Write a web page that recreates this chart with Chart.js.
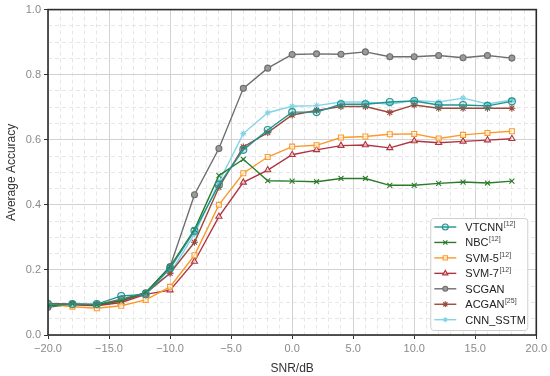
<!DOCTYPE html>
<html>
<head>
<meta charset="utf-8">
<script src="https://cdn.jsdelivr.net/npm/chart.js@4.4.0/dist/chart.umd.min.js"></script>
<style>
  html, body { margin: 0; padding: 0; background: #fff; }
</style>
</head>
<body>
<canvas id="accChart" width="550" height="376"></canvas>
<script>
// SNR values (dB) on the x axis
const snr = [-20, -18, -16, -14, -12, -10, -8, -6, -4, -2, 0, 2, 4, 6, 8, 10, 12, 14, 16, 18];

// accuracy per method
const vtcnn   = [0.095, 0.095, 0.095, 0.120, 0.125, 0.205, 0.320, 0.462, 0.569, 0.630, 0.685, 0.685, 0.709, 0.709, 0.716, 0.719, 0.707, 0.707, 0.704, 0.718];
const nbc     = [0.090, 0.095, 0.093, 0.105, 0.130, 0.210, 0.324, 0.490, 0.540, 0.474, 0.473, 0.471, 0.481, 0.481, 0.460, 0.460, 0.466, 0.470, 0.467, 0.473];
const svm5    = [0.095, 0.087, 0.082, 0.090, 0.108, 0.148, 0.245, 0.400, 0.497, 0.547, 0.579, 0.583, 0.607, 0.610, 0.617, 0.618, 0.604, 0.615, 0.621, 0.626];
const svm7    = [0.097, 0.093, 0.090, 0.100, 0.125, 0.138, 0.226, 0.364, 0.469, 0.507, 0.554, 0.569, 0.582, 0.584, 0.575, 0.596, 0.591, 0.595, 0.599, 0.603];
const scgan   = [0.085, 0.095, 0.093, 0.110, 0.130, 0.210, 0.431, 0.573, 0.758, 0.820, 0.862, 0.864, 0.863, 0.870, 0.855, 0.855, 0.859, 0.852, 0.859, 0.851];
const acgan   = [0.097, 0.095, 0.092, 0.105, 0.128, 0.190, 0.285, 0.454, 0.578, 0.622, 0.676, 0.690, 0.702, 0.702, 0.684, 0.707, 0.697, 0.697, 0.697, 0.697];
const cnnSstm = [0.095, 0.093, 0.092, 0.105, 0.130, 0.190, 0.310, 0.470, 0.619, 0.683, 0.703, 0.705, 0.716, 0.716, 0.709, 0.721, 0.716, 0.728, 0.710, 0.722];

// legend names and their reference superscripts
const names = ['VTCNN', 'NBC', 'SVM-5', 'SVM-7', 'SCGAN', 'ACGAN', 'CNN_SSTM'];
const refs  = ['[12]', '[12]', '[12]', '[12]', '', '[25]', ''];

// axis ticks
const xTicks = [-20, -15, -10, -5, 0, 5, 10, 15, 20];
const yTicks = [0, 0.2, 0.4, 0.6, 0.8, 1.0];

const FONT = '"Liberation Sans", Arial, sans-serif';

const styles = [
    { color: '#21948f', fill: 'rgba(33,148,143,0.18)', point: 'circle',   radius: 3.5 },
    { color: '#2a7a2a', fill: '#2a7a2a',               point: 'crossRot', radius: 3.5 },
    { color: '#fb9a2b', fill: 'rgba(255,255,255,0.6)', point: 'rect',     radius: 3.5 },
    { color: '#b0343f', fill: 'rgba(255,255,255,0.6)', point: 'triangle', radius: 3.5 },
    { color: '#6e6e6e', fill: '#9a9a9a',               point: 'circle',   radius: 3 },
    { color: '#9b4a3c', fill: '#9b4a3c',               point: 'star',     radius: 3.5 },
    { color: '#85d3e8', fill: '#85d3e8',               point: 'star',     radius: 3 }
];

const series = [vtcnn, nbc, svm5, svm7, scgan, acgan, cnnSstm];

const datasets = series.map((vals, i) => ({
    label: names[i],
    data: vals.map((v, k) => ({ x: snr[k], y: v })),
    borderColor: styles[i].color,
    backgroundColor: styles[i].fill,
    borderWidth: 1.4,
    pointStyle: styles[i].point,
    pointRadius: styles[i].radius,
    pointBorderWidth: 1.1,
    pointBorderColor: styles[i].color,
    pointBackgroundColor: styles[i].fill,
    fill: false,
    tension: 0
}));

const isMajor = (v, list) => list.some(t => Math.abs(t - v) < 1e-6);

// frame around the plot and the legend with superscripts
const framePlugin = {
    id: 'frameLegend',
    afterDraw(chart) {
        const ctx = chart.ctx;
        const a = chart.chartArea;
        ctx.save();
        ctx.strokeStyle = '#2b2b2b';
        ctx.lineWidth = 1.6;
        ctx.strokeRect(a.left, a.top, a.right - a.left, a.bottom - a.top);

        // legend box
        const bx = a.right - 106, by = a.bottom - 117, bw = 97, bh = 112;
        ctx.fillStyle = 'rgba(255,255,255,0.9)';
        ctx.strokeStyle = '#cfcfcf';
        ctx.lineWidth = 1;
        ctx.beginPath();
        ctx.roundRect(bx + 0.5, by + 0.5, bw, bh, 3);
        ctx.fill();
        ctx.stroke();

        names.forEach((name, i) => {
            const y = by + 9 + i * 15.45;
            const s = styles[i];
            ctx.strokeStyle = s.color;
            ctx.lineWidth = 1.4;
            ctx.beginPath();
            ctx.moveTo(bx + 4, y);
            ctx.lineTo(bx + 26, y);
            ctx.stroke();
            ctx.fillStyle = s.fill;
            ctx.lineWidth = 1.1;
            Chart.helpers.drawPoint(ctx, { pointStyle: s.point, radius: s.radius - 0.5, rotation: 0, borderWidth: 1.1 }, bx + 15, y);

            ctx.fillStyle = '#222';
            ctx.font = '11px ' + FONT;
            ctx.textBaseline = 'middle';
            ctx.textAlign = 'left';
            ctx.fillText(name, bx + 35, y + 1);
            if (refs[i]) {
                const w = ctx.measureText(name).width;
                ctx.font = '7px ' + FONT;
                ctx.fillStyle = '#444';
                ctx.fillText(refs[i], bx + 35 + w + 0.5, y - 3);
            }
        });
        ctx.restore();
    }
};

const config = {
    type: 'line',
    data: { datasets: datasets },
    options: {
        responsive: false,
        animation: false,
        devicePixelRatio: 1,
        layout: { padding: { top: 8, right: 13, left: 4, bottom: 0 } },
        plugins: {
            legend: { display: false },
            tooltip: { enabled: false }
        },
        scales: {
            x: {
                type: 'linear',
                min: -20,
                max: 20,
                afterFit: scale => { scale.height = 41; },
                border: {
                    display: false,
                    dash: ctx => isMajor(ctx.tick.value, xTicks) ? [] : [4, 3]
                },
                grid: {
                    color: ctx => isMajor(ctx.tick.value, xTicks) ? '#d2d2d2' : '#e6e6e6',
                    lineWidth: 1,
                    tickColor: ctx => isMajor(ctx.tick.value, xTicks) ? '#333' : 'rgba(0,0,0,0)',
                    tickLength: 4
                },
                ticks: {
                    stepSize: 1,
                    autoSkip: false,
                    maxRotation: 0,
                    minRotation: 0,
                    color: '#8a8a8a',
                    font: { family: FONT, size: 11 },
                    padding: 3,
                    callback: v => isMajor(v, xTicks) ? (v < 0 ? '\u2212' + Math.abs(v).toFixed(1) : v.toFixed(1)) : ''
                },
                title: {
                    display: true,
                    text: 'SNR/dB',
                    color: '#333',
                    font: { family: FONT, size: 12 },
                    padding: { top: 0, bottom: 0 }
                }
            },
            y: {
                min: 0,
                max: 1,
                afterFit: scale => { scale.width = 44; },
                border: {
                    display: false,
                    dash: ctx => isMajor(ctx.tick.value, yTicks) ? [] : [4, 3]
                },
                grid: {
                    color: ctx => isMajor(ctx.tick.value, yTicks) ? '#d2d2d2' : '#e6e6e6',
                    lineWidth: 1,
                    tickColor: ctx => isMajor(ctx.tick.value, yTicks) ? '#333' : 'rgba(0,0,0,0)',
                    tickLength: 4
                },
                ticks: {
                    stepSize: 0.05,
                    autoSkip: false,
                    color: '#8a8a8a',
                    font: { family: FONT, size: 11 },
                    padding: 3,
                    callback: v => isMajor(v, yTicks) ? v.toFixed(1) : ''
                },
                title: {
                    display: true,
                    text: 'Average Accuracy',
                    color: '#333',
                    font: { family: FONT, size: 12 },
                    padding: { top: 0, bottom: 2 }
                }
            }
        }
    },
    plugins: [framePlugin]
};

const accChart = new Chart(document.getElementById('accChart'), config);
</script>
</body>
</html>
